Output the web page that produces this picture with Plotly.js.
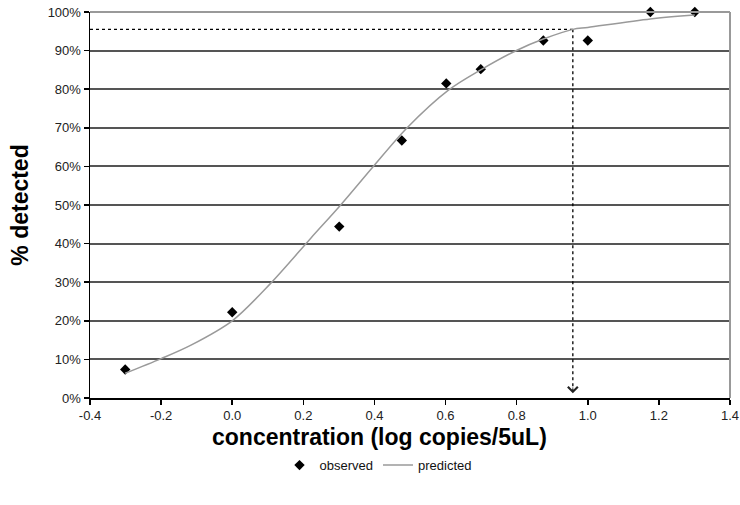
<!DOCTYPE html>
<html>
<head>
<meta charset="utf-8">
<script src="https://cdn.plot.ly/plotly-3.0.1.min.js"></script>
<style>html,body{margin:0;padding:0;background:#fff;}#chart{width:740px;height:505px;}</style>
</head>
<body>
<div id="chart"></div>
<script>
// observed data (log copies/5uL, fraction detected)
const obsX = [-0.301, 0.0, 0.301, 0.477, 0.602, 0.699, 0.875, 1.0, 1.176, 1.301];
const obsY = [0.074, 0.222, 0.444, 0.667, 0.815, 0.852, 0.926, 0.926, 1.0, 1.0];
// predicted curve
const predX = [-0.301, -0.2, -0.116, 0.0, 0.108, 0.221, 0.305, 0.398, 0.492, 0.609, 0.699, 0.801, 0.875, 0.958, 1.0, 1.176, 1.301];
const predY = [0.064, 0.102, 0.137, 0.200, 0.297, 0.414, 0.500, 0.601, 0.700, 0.798, 0.850, 0.901, 0.930, 0.955, 0.960, 0.982, 0.992];
// threshold (95% detection)
const threshX = 0.958;
const threshY = 0.955;
const xTickVals = [-0.4, -0.2, 0.0, 0.2, 0.4, 0.6, 0.8, 1.0, 1.2, 1.4];
const xTickText = ["-0.4", "-0.2", "0.0", "0.2", "0.4", "0.6", "0.8", "1.0", "1.2", "1.4"];
const yTickVals = [0, 0.1, 0.2, 0.3, 0.4, 0.5, 0.6, 0.7, 0.8, 0.9, 1.0];
const yTickText = ["0%", "10%", "20%", "30%", "40%", "50%", "60%", "70%", "80%", "90%", "100%"];
const xTitle = "concentration (log copies/5uL)";
const yTitle = "% detected";

const font = "Liberation Sans, Arial, sans-serif";

const traces = [
  {x: [-0.4, threshX], y: [threshY, threshY], mode: "lines", showlegend: false, hoverinfo: "skip",
   line: {color: "#000", width: 1.3, dash: "dot"}},
  {x: [threshX, threshX], y: [threshY, 0.02], mode: "lines", showlegend: false, hoverinfo: "skip",
   line: {color: "#000", width: 1.3, dash: "dot"}},
  {x: obsX, y: obsY, mode: "markers", name: "observed", cliponaxis: false,
   marker: {symbol: "diamond", size: 8, color: "#000"}},
  {x: predX, y: predY, mode: "lines", name: "predicted", cliponaxis: false,
   line: {color: "#9a9a9a", width: 1.5, shape: "spline", smoothing: 0.9}}
];

const layout = {
  width: 740, height: 505,
  margin: {l: 90, r: 10, t: 12, b: 107},
  paper_bgcolor: "#fff", plot_bgcolor: "#fff",
  showlegend: true,
  legend: {orientation: "h", x: 0.45, xanchor: "center", y: -0.174, yanchor: "middle",
    font: {family: font, size: 13, color: "#111"}, bgcolor: "rgba(0,0,0,0)", traceorder: "normal"},
  xaxis: {range: [-0.4, 1.4], tickvals: xTickVals, ticktext: xTickText,
    showgrid: false, zeroline: false, showline: true, linecolor: "#000", linewidth: 1.5,
    ticks: "outside", ticklen: 5, tickcolor: "#000", tickwidth: 1.5,
    tickfont: {family: font, size: 13, color: "#222"}},
  yaxis: {range: [0, 1], tickvals: yTickVals, ticktext: yTickText,
    showgrid: true, gridcolor: "#555", gridwidth: 2, zeroline: false,
    showline: true, linecolor: "#000", linewidth: 1.5,
    ticks: "outside", ticklen: 5, tickcolor: "#000", tickwidth: 1.5,
    tickfont: {family: font, size: 13, color: "#222"},
    title: {text: yTitle, standoff: 12,
      font: {family: font, size: 23, color: "#000", weight: "bold"}}},
  shapes: [
    {type: "line", xref: "paper", yref: "paper", x0: 0, x1: 1, y0: 1, y1: 1, line: {color: "#999", width: 2}, layer: "above"},
    {type: "line", xref: "paper", yref: "paper", x0: 1, x1: 1, y0: 0, y1: 1, line: {color: "#999", width: 2}, layer: "above"}
  ],
  annotations: [
    {x: threshX, y: 0.012, xref: "x", yref: "y", ax: 0, ay: -16, showarrow: true,
     arrowhead: 4, arrowsize: 2.4, arrowwidth: 0.8, arrowcolor: "#222", text: " ", standoff: 0},
    {x: 0.453, y: -0.102, xref: "paper", yref: "paper", xanchor: "center", yanchor: "middle",
     showarrow: false, text: xTitle, font: {family: font, size: 23, color: "#000", weight: "bold"}}
  ]
};

Plotly.newPlot("chart", traces, layout, {displayModeBar: false, staticPlot: true});
</script>
</body>
</html>
